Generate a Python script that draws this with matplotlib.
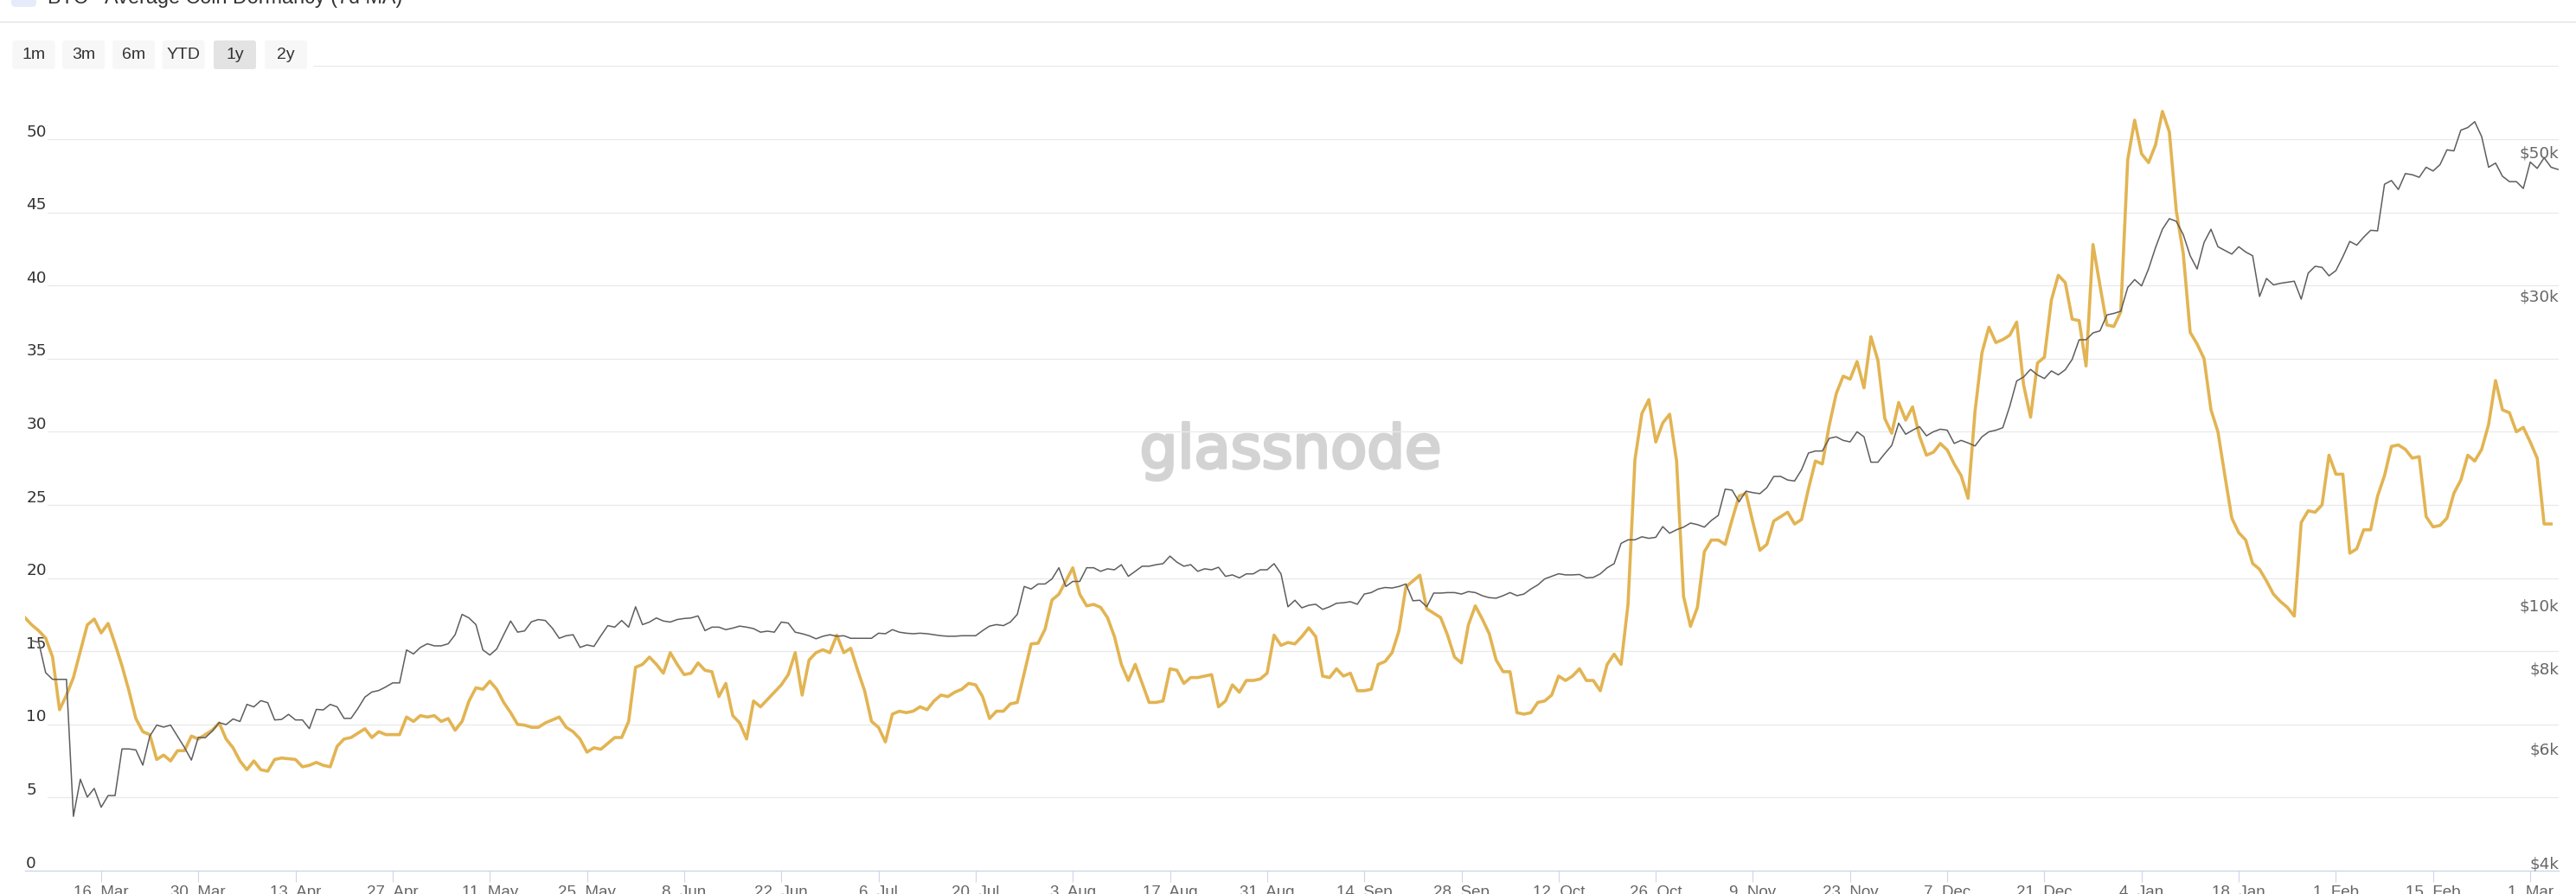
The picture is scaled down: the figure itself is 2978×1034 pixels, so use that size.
import numpy as np
import pandas as pd
import matplotlib
matplotlib.use("Agg")
import matplotlib.pyplot as plt
from matplotlib.patches import Rectangle, FancyBboxPatch
from matplotlib.lines import Line2D
from matplotlib.transforms import IdentityTransform
import matplotlib.patheffects as pe
from matplotlib.ticker import NullLocator

W, H = 2978, 1034

# ---------------- data ----------------
dormancy_start = "2020-03-05"
dormancy = [
    17.3, 16.8, 16.4, 15.9, 14.6, 11.0, 12.0, 13.2, 15.0, 16.8,
    17.2, 16.25, 16.9, 15.5, 14.0, 12.3, 10.4, 9.5, 9.3, 7.6,
    7.9, 7.5, 8.2, 8.2, 9.2, 9.0, 9.3, 9.6, 10.1, 9.0,
    8.4, 7.5, 6.9, 7.5, 6.9, 6.8, 7.6, 7.7, 7.65, 7.6,
    7.1, 7.2, 7.4, 7.2, 7.1, 8.5, 9.0, 9.1, 9.4, 9.7,
    9.1, 9.5, 9.3, 9.3, 9.3, 10.5, 10.2, 10.6, 10.5, 10.6,
    10.2, 10.4, 9.6, 10.2, 11.6, 12.5, 12.4, 12.95, 12.4, 11.5,
    10.8, 10.0, 9.95, 9.8, 9.8, 10.1, 10.3, 10.5, 9.8, 9.5,
    9.0, 8.1, 8.4, 8.3, 8.7, 9.1, 9.1, 10.2, 13.9, 14.1,
    14.6, 14.1, 13.5, 14.9, 14.1, 13.4, 13.5, 14.2, 13.7, 13.6,
    11.9, 12.8, 10.6, 10.1, 9.0, 11.6, 11.2, 11.7, 12.2, 12.7,
    13.4, 14.9, 12.0, 14.4, 14.9, 15.1, 14.9, 16.1, 14.9, 15.2,
    13.7, 12.3, 10.2, 9.8, 8.8, 10.7, 10.9, 10.8, 10.9, 11.2,
    11.0, 11.6, 12.0, 11.9, 12.2, 12.4, 12.8, 12.7, 11.9, 10.4,
    10.9, 10.9, 11.4, 11.5, 13.5, 15.5, 15.55, 16.5, 18.5, 18.9,
    19.8, 20.7, 18.9, 18.1, 18.2, 18.0, 17.3, 16.0, 14.1, 13.0,
    14.1, 12.8, 11.5, 11.5, 11.6, 13.8, 13.7, 12.8, 13.2, 13.2,
    13.3, 13.4, 11.2, 11.6, 12.7, 12.2, 13.0, 13.0, 13.1, 13.5,
    16.1, 15.4, 15.6, 15.5, 16.0, 16.6, 16.0, 13.3, 13.2, 13.8,
    13.3, 13.5, 12.3, 12.3, 12.4, 14.1, 14.3, 14.9, 16.4, 19.4,
    19.8, 20.2, 17.9, 17.6, 17.3, 16.1, 14.6, 14.2, 16.8, 18.1,
    17.2, 16.2, 14.4, 13.6, 13.6, 10.8, 10.7, 10.8, 11.5, 11.6,
    12.0, 13.3, 13.0, 13.3, 13.8, 13.0, 13.0, 12.3, 14.1, 14.8,
    14.1, 18.2, 28.1, 31.25, 32.2, 29.3, 30.6, 31.2, 28.0, 18.75,
    16.7, 18.0, 21.8, 22.6, 22.6, 22.3, 24.0, 25.6, 25.8, 23.8,
    21.9, 22.3, 23.9, 24.2, 24.5, 23.7, 24.0, 26.1, 28.0, 27.8,
    30.45, 32.6, 33.8, 33.6, 34.8, 33.0, 36.5, 34.9, 30.9, 29.9,
    32.0, 30.8, 31.7, 29.7, 28.4, 28.6, 29.2, 28.75, 27.8, 27.0,
    25.45, 31.4, 35.4, 37.15, 36.1, 36.3, 36.6, 37.5, 33.2, 31.0,
    34.7, 35.1, 39.0, 40.7, 40.2, 37.7, 37.6, 34.5, 42.8, 40.0,
    37.3, 37.2, 38.2, 48.6, 51.3, 49.0, 48.4, 49.6, 51.9, 50.5,
    45.1, 42.2, 36.8, 36.0, 35.0, 31.5, 30.0, 27.0, 24.1, 23.1,
    22.6, 21.0, 20.6, 19.8, 18.9, 18.4, 18.0, 17.4, 23.8, 24.6,
    24.5, 25.0, 28.4, 27.1, 27.1, 21.7, 22.0, 23.3, 23.3, 25.6,
    27.0, 29.0, 29.1, 28.8, 28.2, 28.3, 24.2, 23.5, 23.6, 24.1,
    25.8, 26.7, 28.4, 28.0, 28.8, 30.5, 33.5, 31.5, 31.3, 30.0,
    30.3, 29.3, 28.2, 23.7, 23.7,
]

price_start = "2020-03-06"
price = [
    9050, 9000, 8080, 7890, 7890, 7890, 4851, 5533, 5194, 5356,
    5010, 5222, 5222, 6163, 6163, 6141, 5818, 6447, 6707, 6660,
    6707, 6447, 6196, 5923, 6424, 6412, 6565, 6767, 6719, 6855,
    6793, 7219, 7155, 7315, 7262, 6831, 6843, 6968, 6831, 6831,
    6624, 7092, 7079, 7219, 7155, 6869, 6869, 7117, 7408, 7543,
    7584, 7680, 7791, 7791, 8759, 8635, 8838, 8953, 8887, 8887,
    8953, 9245, 9937, 9812, 9583, 8759, 8602, 8791, 9245, 9707,
    9330, 9370, 9680, 9757, 9724, 9465, 9128, 9212, 9245, 8838,
    8916, 8869, 9212, 9549, 9497, 9724, 9497, 10209, 9583, 9670,
    9812, 9707, 9670, 9757, 9793, 9812, 9884, 9380, 9497, 9497,
    9413, 9465, 9532, 9497, 9448, 9329, 9363, 9329, 9670, 9636,
    9329, 9278, 9212, 9112, 9195, 9245, 9195, 9212, 9128, 9128,
    9128, 9128, 9295, 9278, 9413, 9329, 9295, 9278, 9295, 9278,
    9245, 9212, 9195, 9195, 9212, 9212, 9212, 9380, 9532, 9583,
    9549, 9670, 9937, 10973, 10874, 11070, 11070, 11272, 11727, 10973,
    11171, 11171, 11727, 11727, 11579, 11683, 11642, 11855, 11375, 11579,
    11791, 11791, 11855, 11898, 12222, 11961, 11791, 11855, 11579, 11683,
    11642, 11748, 11375, 11433, 11313, 11475, 11475, 11642, 11642, 11898,
    11475, 10209, 10449, 10172, 10265, 10301, 10116, 10209, 10338, 10357,
    10394, 10301, 10681, 10737, 10874, 10933, 10913, 10973, 11070, 10430,
    10449, 10209, 10718, 10718, 10737, 10737, 10681, 10775, 10737, 10620,
    10545, 10526, 10620, 10737, 10620, 10681, 10874, 11033, 11272, 11375,
    11480, 11433, 11433, 11450, 11313, 11333, 11475, 11727, 11898, 12787,
    12949, 12949, 13090, 13019, 13066, 13571, 13256, 13423, 13546, 13743,
    13669, 13546, 13869, 14120, 15503, 15447, 14818, 15392, 15310, 15256,
    15586, 16218, 16218, 16015, 15957, 16603, 17623, 17751, 17751, 18568,
    18668, 18434, 18335, 19006, 18668, 17060, 17060, 17591, 18104, 19596,
    18838, 19111, 19352, 18734, 19006, 19180, 19111, 18233, 18434, 18267,
    18071, 18668, 19006, 19111, 19283, 20799, 22761, 23089, 23720, 23254,
    22964, 23588, 23263, 23690, 24580, 26350, 26350, 27000, 27196, 28776,
    28935, 29160, 31721, 32629, 31901, 33879, 36537, 39008, 40506, 40128,
    38287, 35512, 33879, 37221, 39008, 36664, 36187, 35715, 36664, 35981,
    35512, 30728, 32754, 32020, 32200, 32320, 32440, 30438, 33376, 34203,
    34073, 33066, 33688, 35381, 37365, 36871, 37928, 38864, 38792, 45772,
    46380, 44924, 47537, 47352, 46915, 48619, 47981, 49072, 51721, 51529,
    55457, 55980, 57152, 54209, 48619, 49345, 47088, 46204, 46204, 45087,
    49530, 48424, 50288, 48619, 48245,
]

x_tick_start = "2020-03-16"
x_tick_labels = ["16. Mar", "30. Mar", "13. Apr", "27. Apr", "11. May", "25. May",
                 "8. Jun", "22. Jun", "6. Jul", "20. Jul", "3. Aug", "17. Aug",
                 "31. Aug", "14. Sep", "28. Sep", "12. Oct", "26. Oct", "9. Nov",
                 "23. Nov", "7. Dec", "21. Dec", "4. Jan", "18. Jan", "1. Feb",
                 "15. Feb", "1. Mar"]
left_ticks = [0, 5, 10, 15, 20, 25, 30, 35, 40, 45, 50]
left_grid = [5, 10, 15, 20, 25, 30, 35, 40, 45, 50, 55]
right_ticks = [4000, 6000, 8000, 10000, 30000, 50000]
right_labels = ["$4k", "$6k", "$8k", "$10k", "$30k", "$50k"]
range_buttons = ["1m", "3m", "6m", "YTD", "1y", "2y"]
selected_button = "1y"
title = "BTC - Average Coin Dormancy (7d MA)"

# ---------------- figure ----------------
fig = plt.figure(figsize=(W / 100, H / 100), dpi=100, facecolor="white")

ax_l, ax_r, ax_t, ax_b = 28.7, 2958.0, 76.4, 1007.0
ax = fig.add_axes([ax_l / W, 1 - ax_b / H, (ax_r - ax_l) / W, (ax_b - ax_t) / H])
ax.set_facecolor("white")

d_dates = pd.date_range(dormancy_start, periods=len(dormancy), freq="D")
p_dates = pd.date_range(price_start, periods=len(price), freq="D")
tick_pos = pd.date_range(x_tick_start, periods=len(x_tick_labels), freq="14D")

x0 = pd.Timestamp(dormancy_start)
x1 = x0 + pd.Timedelta(days=365.1)
ax.set_xlim(x0, x1)
ax.set_ylim(0, 55)

gold = "#e2b452"
grey = "#5e5e5e"

ax.plot(d_dates, dormancy, color=gold, lw=2.6, zorder=3, solid_joinstyle="round")

# grid lines
for v in left_grid:
    ax.axhline(v, xmin=0.009, xmax=1.0, color="#e9e9e9", lw=0.9, zorder=0.8)

ax.set_yticks([])
for s in ["left", "right", "top"]:
    ax.spines[s].set_visible(False)
ax.spines["bottom"].set_color("#ccd6eb")
ax.spines["bottom"].set_linewidth(1.0)

ax.set_xticks(tick_pos)
ax.set_xticklabels(x_tick_labels)
ax.tick_params(axis="x", length=9.5, width=0.8, color="#ccd6eb", pad=3,
               labelsize=13.5, labelcolor="#666666")
for t in ax.get_xticklabels():
    t.set_family("Liberation Sans")

for v in left_ticks:
    ax.annotate(str(v), xy=(0, v), xycoords=("axes fraction", "data"),
                xytext=(1.5, 3.5), textcoords="offset pixels",
                ha="left", va="baseline", fontsize=13.3, color="#333333",
                family="DejaVu Sans", zorder=1.5, annotation_clip=False)

# watermark
ax.text(1492 / W, 1 - 541 / H, "glassnode", transform=fig.transFigure,
        ha="center", va="baseline", fontsize=49.6, color="#d3d3d3",
        family="DejaVu Sans", zorder=0.5,
        path_effects=[pe.withStroke(linewidth=2.5, foreground="#d3d3d3")])

# price axis
ax2 = ax.twinx()
ax2.set_yscale("log")
ax2.set_ylim(4000, 4000 * 10 ** ((ax_b - ax_t) / 750.0))
ax2.yaxis.set_major_locator(NullLocator())
ax2.yaxis.set_minor_locator(NullLocator())
for s in ["left", "right", "top", "bottom"]:
    ax2.spines[s].set_visible(False)
ax2.plot(p_dates, price, color=grey, lw=1.1, zorder=4)
ax2.set_xlim(x0, x1)
for v, lbl in zip(right_ticks, right_labels):
    ax2.annotate(lbl, xy=(1, v), xycoords=("axes fraction", "data"),
                 xytext=(0, 2), textcoords="offset pixels",
                 ha="right", va="baseline", fontsize=13.3, color="#666666",
                 family="DejaVu Sans", annotation_clip=False)

# ---------------- header decorations ----------------
def P(x, y):
    return (x, H - y)

# separator line
fig.add_artist(Line2D([0, W], [H - 25, H - 25], transform=IdentityTransform(),
                      color="#e2e2e2", lw=1.0, zorder=1))
# icon
fig.add_artist(FancyBboxPatch(P(13, 8), 29, 30, boxstyle="round,pad=0,rounding_size=5",
                              transform=IdentityTransform(), facecolor="#e5ebf8",
                              edgecolor="none", zorder=1))
fig.text(55 / W, 1 - 4 / H, title, ha="left", va="baseline", fontsize=16.8,
         color="#333333", family="Liberation Sans")

# range selector buttons
fig.add_artist(Rectangle(P(0, 83), 362, 40, transform=IdentityTransform(),
                         facecolor="white", edgecolor="none", zorder=1))
btn_x = [14.5, 72, 130, 187.5, 247, 306]
for bx, lab in zip(btn_x, range_buttons):
    fc = "#e3e3e3" if lab == selected_button else "#f7f7f7"
    fig.add_artist(FancyBboxPatch(P(bx, 80), 49, 33.3,
                                  boxstyle="round,pad=0,rounding_size=3",
                                  transform=IdentityTransform(), facecolor=fc,
                                  edgecolor="none", zorder=1.2))
    fig.text((bx + 24.5) / W, 1 - 63.5 / H, lab, ha="center", va="center",
             fontsize=14, color="#333333", family="Liberation Sans", zorder=3)

fig.savefig("out.png", dpi=100, facecolor="white")
